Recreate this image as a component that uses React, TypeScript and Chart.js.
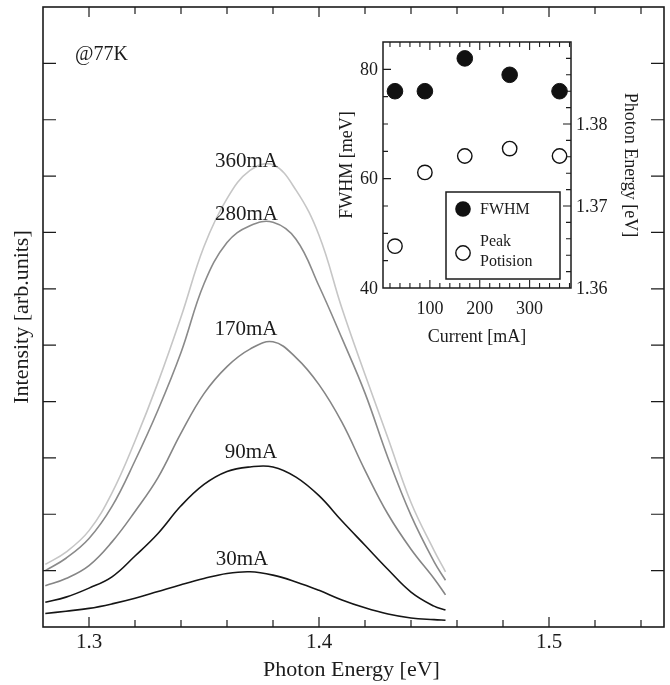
import React, { useEffect, useRef } from "react";
import { Chart, registerables } from "chart.js";

Chart.register(...registerables);

// ---------- main spectrum data (photon energy in eV, intensity arb. units) ----------
const ENERGY = [1.281, 1.29, 1.3, 1.31, 1.32, 1.33, 1.34, 1.35, 1.36, 1.37, 1.38, 1.39, 1.4, 1.41, 1.42, 1.43, 1.44, 1.45, 1.455];
const I_360MA = [1.11, 1.33, 1.71, 2.38, 3.3, 4.34, 5.5, 6.75, 7.6, 8.1, 8.2, 7.75, 6.95, 5.65, 4.48, 3.35, 2.21, 1.36, 0.98];
const I_280MA = [1.0, 1.22, 1.57, 2.14, 2.95, 3.85, 4.87, 6.09, 6.82, 7.12, 7.18, 6.88, 6.05, 5.12, 4.15, 3.0, 1.98, 1.16, 0.83];
const I_170MA = [0.73, 0.86, 1.09, 1.51, 2.05, 2.65, 3.44, 4.14, 4.62, 4.93, 5.06, 4.78, 4.3, 3.63, 2.78, 2.0, 1.38, 0.86, 0.57];
const I_90MA = [0.44, 0.53, 0.69, 0.89, 1.26, 1.66, 2.15, 2.53, 2.76, 2.84, 2.84, 2.66, 2.33, 1.88, 1.45, 1.02, 0.62, 0.37, 0.3];
const I_30MA = [0.24, 0.28, 0.33, 0.41, 0.51, 0.63, 0.75, 0.86, 0.95, 0.98, 0.92, 0.8, 0.65, 0.48, 0.34, 0.23, 0.16, 0.13, 0.12];
const SERIES_NAMES = ["360mA", "280mA", "170mA", "90mA", "30mA"];

const X_TICKS = [1.3, 1.32, 1.34, 1.36, 1.38, 1.4, 1.42, 1.44, 1.46, 1.48, 1.5, 1.52, 1.54];
const X_LABELS = [1.3, 1.4, 1.5];
const Y_TICKS = [1, 2, 3, 4, 5, 6, 7, 8, 9, 10];

// ---------- inset data ----------
const CURRENT = [30, 90, 170, 260, 360];
const FWHM = [76, 76, 82, 79, 76];
const PEAK_POSITION = [1.3651, 1.3741, 1.3761, 1.377, 1.3761];

const CUR_TICKS = [20, 40, 60, 80, 100, 120, 140, 160, 180, 200, 220, 240, 260, 280, 300, 320, 340, 360, 380];
const CUR_LABELS = [100, 200, 300];
const FWHM_TICKS = [45, 50, 55, 60, 65, 70, 75, 80];
const FWHM_LABELS = [40, 60, 80];
const PE_TICKS = [1.362, 1.364, 1.366, 1.368, 1.37, 1.372, 1.374, 1.376, 1.378, 1.38, 1.382, 1.384, 1.386, 1.388];
const PE_LABELS = [1.36, 1.37, 1.38];

const FONT = "'Liberation Serif', 'Times New Roman', serif";
const INK = "#1b1b1b";

const mainDecor = {
  id: "mainDecor",
  afterDatasetsDraw(chart: any) {
    const { ctx, chartArea: a, scales } = chart;
    const xs = scales.x;
    const ys = scales.y;
    ctx.save();
    ctx.strokeStyle = INK;
    ctx.lineWidth = 1.6;
    ctx.strokeRect(a.left, a.top, a.right - a.left, a.bottom - a.top);
    ctx.lineWidth = 1.2;
    ctx.beginPath();
    for (const v of X_TICKS) {
      const px = xs.getPixelForValue(v);
      const len = X_LABELS.includes(v) ? 10 : 7;
      ctx.moveTo(px, a.bottom);
      ctx.lineTo(px, a.bottom - len);
      ctx.moveTo(px, a.top);
      ctx.lineTo(px, a.top + len);
    }
    for (const v of Y_TICKS) {
      const py = ys.getPixelForValue(v);
      ctx.moveTo(a.left, py);
      ctx.lineTo(a.left + 13, py);
      ctx.moveTo(a.right, py);
      ctx.lineTo(a.right - 13, py);
    }
    ctx.stroke();

    ctx.fillStyle = INK;
    ctx.font = `21px ${FONT}`;
    ctx.textAlign = "center";
    ctx.textBaseline = "middle";
    for (const v of X_LABELS) {
      ctx.fillText(v.toFixed(1), xs.getPixelForValue(v), a.bottom + 15);
    }

    // curve labels
    ctx.textBaseline = "alphabetic";
    const labelPos: Record<string, [number, number]> = {
      "360mA": [246.5, 167],
      "280mA": [246.5, 220],
      "170mA": [246, 335],
      "90mA": [251, 458],
      "30mA": [242, 565],
    };
    for (const name of SERIES_NAMES) {
      const [lx, ly] = labelPos[name];
      ctx.fillText(name, lx, ly);
    }

    // @77K
    ctx.font = `20px ${FONT}`;
    ctx.textAlign = "left";
    ctx.fillText("@77K", 75, 60);

    // axis titles
    ctx.font = `22px ${FONT}`;
    ctx.textAlign = "center";
    ctx.fillText("Photon Energy [eV]", (a.left + a.right) / 2 - 2, 676);
    ctx.save();
    ctx.translate(22, (a.top + a.bottom) / 2);
    ctx.rotate(-Math.PI / 2);
    ctx.textBaseline = "middle";
    ctx.fillText("Intensity [arb.units]", 0, 0);
    ctx.restore();
    ctx.restore();
  },
};

const insetDecor = {
  id: "insetDecor",
  afterDatasetsDraw(chart: any) {
    const { ctx, chartArea: a, scales } = chart;
    const xs = scales.x;
    const yl = scales.y;
    const yr = scales.y2;
    ctx.save();
    ctx.strokeStyle = INK;
    ctx.lineWidth = 1.5;
    ctx.strokeRect(a.left, a.top, a.right - a.left, a.bottom - a.top);
    ctx.lineWidth = 1.1;
    ctx.beginPath();
    for (const v of CUR_TICKS) {
      const px = xs.getPixelForValue(v);
      const len = CUR_LABELS.includes(v) ? 8 : 5;
      ctx.moveTo(px, a.bottom);
      ctx.lineTo(px, a.bottom - len);
      ctx.moveTo(px, a.top);
      ctx.lineTo(px, a.top + len);
    }
    for (const v of FWHM_TICKS) {
      const py = yl.getPixelForValue(v);
      const len = FWHM_LABELS.includes(v) ? 8 : 5;
      ctx.moveTo(a.left, py);
      ctx.lineTo(a.left + len, py);
    }
    for (const v of PE_TICKS) {
      const py = yr.getPixelForValue(v);
      const len = PE_LABELS.includes(v) ? 8 : 5;
      ctx.moveTo(a.right, py);
      ctx.lineTo(a.right - len, py);
    }
    ctx.stroke();

    ctx.fillStyle = INK;
    ctx.font = `18px ${FONT}`;
    ctx.textBaseline = "middle";
    ctx.textAlign = "right";
    for (const v of FWHM_LABELS) ctx.fillText(String(v), a.left - 5, yl.getPixelForValue(v) + 1);
    ctx.textAlign = "left";
    for (const v of PE_LABELS) ctx.fillText(v.toFixed(2), a.right + 5, yr.getPixelForValue(v) + 1);
    ctx.textAlign = "center";
    for (const v of CUR_LABELS) ctx.fillText(String(v), xs.getPixelForValue(v), a.bottom + 21);
    ctx.fillText("Current [mA]", (a.left + a.right) / 2, a.bottom + 49);

    ctx.save();
    ctx.translate(a.left - 36, (a.top + a.bottom) / 2);
    ctx.rotate(-Math.PI / 2);
    ctx.fillText("FWHM [meV]", 0, 0);
    ctx.restore();

    ctx.save();
    ctx.translate(a.right + 59, (a.top + a.bottom) / 2);
    ctx.rotate(Math.PI / 2);
    ctx.fillText("Photon Energy [eV]", 0, 0);
    ctx.restore();

    // legend box
    const bx = a.left + 63;
    const by = a.top + 150;
    const bw = 114;
    const bh = 87;
    ctx.lineWidth = 1.5;
    ctx.strokeRect(bx, by, bw, bh);
    ctx.beginPath();
    ctx.arc(bx + 17, by + 17, 7.8, 0, Math.PI * 2);
    ctx.fillStyle = "#111";
    ctx.fill();
    ctx.beginPath();
    ctx.arc(bx + 17, by + 61, 7.2, 0, Math.PI * 2);
    ctx.fillStyle = "#fff";
    ctx.fill();
    ctx.lineWidth = 1.4;
    ctx.strokeStyle = "#111";
    ctx.stroke();
    ctx.fillStyle = INK;
    ctx.font = `16px ${FONT}`;
    ctx.textAlign = "left";
    ctx.textBaseline = "alphabetic";
    ctx.fillText("FWHM", bx + 34, by + 22);
    ctx.fillText("Peak", bx + 34, by + 54);
    ctx.fillText("Potision", bx + 34, by + 74);
    ctx.restore();
  },
};

export default function App() {
  const mainRef = useRef<HTMLCanvasElement>(null);
  const insetRef = useRef<HTMLCanvasElement>(null);

  useEffect(() => {
    const colors = ["#c6c6c6", "#8a8a8a", "#858585", "#151515", "#151515"];
    const seriesValues = [I_360MA, I_280MA, I_170MA, I_90MA, I_30MA];
    const main = new Chart(mainRef.current as HTMLCanvasElement, {
      type: "line",
      data: {
        datasets: SERIES_NAMES.map((name, i) => ({
          label: name,
          data: ENERGY.map((e, j) => ({ x: e, y: seriesValues[i][j] })),
          borderColor: colors[i],
          borderWidth: 1.6,
          pointRadius: 0,
          fill: false,
          tension: 0.4,
        })),
      },
      options: {
        responsive: false,
        animation: false,
        devicePixelRatio: 1,
        events: [],
        layout: { padding: { left: 43, top: 7, right: 6, bottom: 58 } },
        plugins: { legend: { display: false }, tooltip: { enabled: false } },
        scales: {
          x: { type: "linear", min: 1.28, max: 1.55, display: false },
          y: { type: "linear", min: 0, max: 11, display: false },
        },
      },
      plugins: [mainDecor],
    });

    const inset = new Chart(insetRef.current as HTMLCanvasElement, {
      type: "scatter",
      data: {
        datasets: [
          {
            label: "FWHM",
            data: CURRENT.map((c, i) => ({ x: c, y: FWHM[i] })),
            yAxisID: "y",
            pointRadius: 7.8,
            pointBackgroundColor: "#111",
            pointBorderColor: "#111",
            pointBorderWidth: 1,
          },
          {
            label: "Peak Potision",
            data: CURRENT.map((c, i) => ({ x: c, y: PEAK_POSITION[i] })),
            yAxisID: "y2",
            pointRadius: 7.2,
            pointBackgroundColor: "#fff",
            pointBorderColor: "#111",
            pointBorderWidth: 1.4,
          },
        ],
      },
      options: {
        responsive: false,
        animation: false,
        devicePixelRatio: 1,
        events: [],
        layout: { padding: { left: 53, top: 17, right: 94, bottom: 72 } },
        plugins: { legend: { display: false }, tooltip: { enabled: false } },
        scales: {
          x: { type: "linear", min: 6, max: 383, display: false },
          y: { type: "linear", position: "left", min: 40, max: 85, display: false },
          y2: { type: "linear", position: "right", min: 1.36, max: 1.39, display: false },
        },
      },
      plugins: [insetDecor],
    });

    return () => {
      main.destroy();
      inset.destroy();
    };
  }, []);

  return (
    <div style={{ position: "absolute", left: 0, top: 0, width: 670, height: 685, background: "#fff" }}>
      <canvas ref={mainRef} width={670} height={685} style={{ position: "absolute", left: 0, top: 0 }} />
      <canvas ref={insetRef} width={335} height={335} style={{ position: "absolute", left: 330, top: 25 }} />
    </div>
  );
}
